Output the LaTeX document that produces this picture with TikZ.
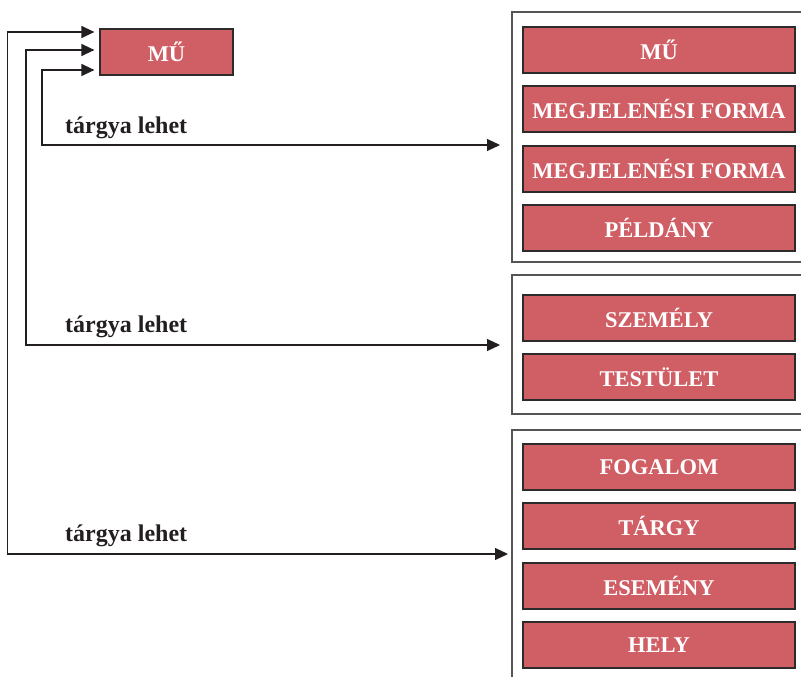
\documentclass[tikz,border=0pt]{standalone}
\usepackage{fontspec}
\setmainfont{Liberation Serif}
\usetikzlibrary{arrows.meta}
\definecolor{boxred}{RGB}{208,94,101}
\definecolor{boxedge}{RGB}{45,42,44}
\definecolor{grpedge}{RGB}{85,85,85}
\definecolor{ink}{RGB}{35,31,32}
\tikzset{
  redbox/.style={draw=boxedge, line width=1.2pt, fill=boxred, text=white,
    font=\fontsize{22.5}{24}\selectfont\bfseries, minimum height=46pt, inner sep=0pt},
  itembox/.style={redbox, minimum width=272pt},
  grpbox/.style={draw=grpedge, line width=1.3pt},
  lbl/.style={anchor=base west, text=ink, font=\fontsize{24}{26}\selectfont\bfseries, inner sep=0pt},
  conn/.style={draw=ink, line width=1.2pt, {Triangle[length=13pt,width=12pt]}-{Triangle[length=13pt,width=12pt]}}
}
\begin{document}
\begin{tikzpicture}[x=1pt,y=-1pt]
\clip (0,0) rectangle (801,677);
\fill[white] (0,0) rectangle (801,677);
% group frames
\draw[grpbox] (512,12) rectangle (820,262);
\draw[grpbox] (512,275) rectangle (820,414);
\draw[grpbox] (512,430) rectangle (820,700);
\coordinate (g1) at (512,145);
\coordinate (g2) at (512,345);
\coordinate (g3) at (512,554);
% main box
\node[redbox, minimum width=133pt] (mu) at (166.5,52) {MŰ};
% items
\node[itembox] (a1) at (659,50) {MŰ};
\node[itembox] (a2) at (659,109) {MEGJELENÉSI FORMA};
\node[itembox] (a3) at (659,169) {MEGJELENÉSI FORMA};
\node[itembox] (a4) at (659,228) {PÉLDÁNY};
\node[itembox] (b1) at (659,318) {SZEMÉLY};
\node[itembox] (b2) at (659,377) {TESTÜLET};
\node[itembox] (c1) at (659,467) {FOGALOM};
\node[itembox] (c2) at (659,526) {TÁRGY};
\node[itembox] (c3) at (659,586) {ESEMÉNY};
\node[itembox] (c4) at (659,645) {HELY};
% labels
\node[lbl] (l1) at (65,133) {tárgya lehet};
\node[lbl] (l2) at (65,332) {tárgya lehet};
\node[lbl] (l3) at (65,541) {tárgya lehet};
% connectors
\coordinate (m1) at (mu.west |- 0,32);
\coordinate (m2) at (mu.west |- 0,50);
\coordinate (m3) at (mu.west |- 0,70);
\draw[conn, shorten <=5pt, shorten >=12pt] (m3) -- (42,70) -- (42,145) -- (g1);
\draw[conn, shorten <=5pt, shorten >=12pt] (m2) -- (26,50) -- (26,345) -- (g2);
\draw[conn, shorten <=5pt, shorten >=4pt] (m1) -- (7.5,32) -- (7.5,554) -- (g3);
\end{tikzpicture}
\end{document}
